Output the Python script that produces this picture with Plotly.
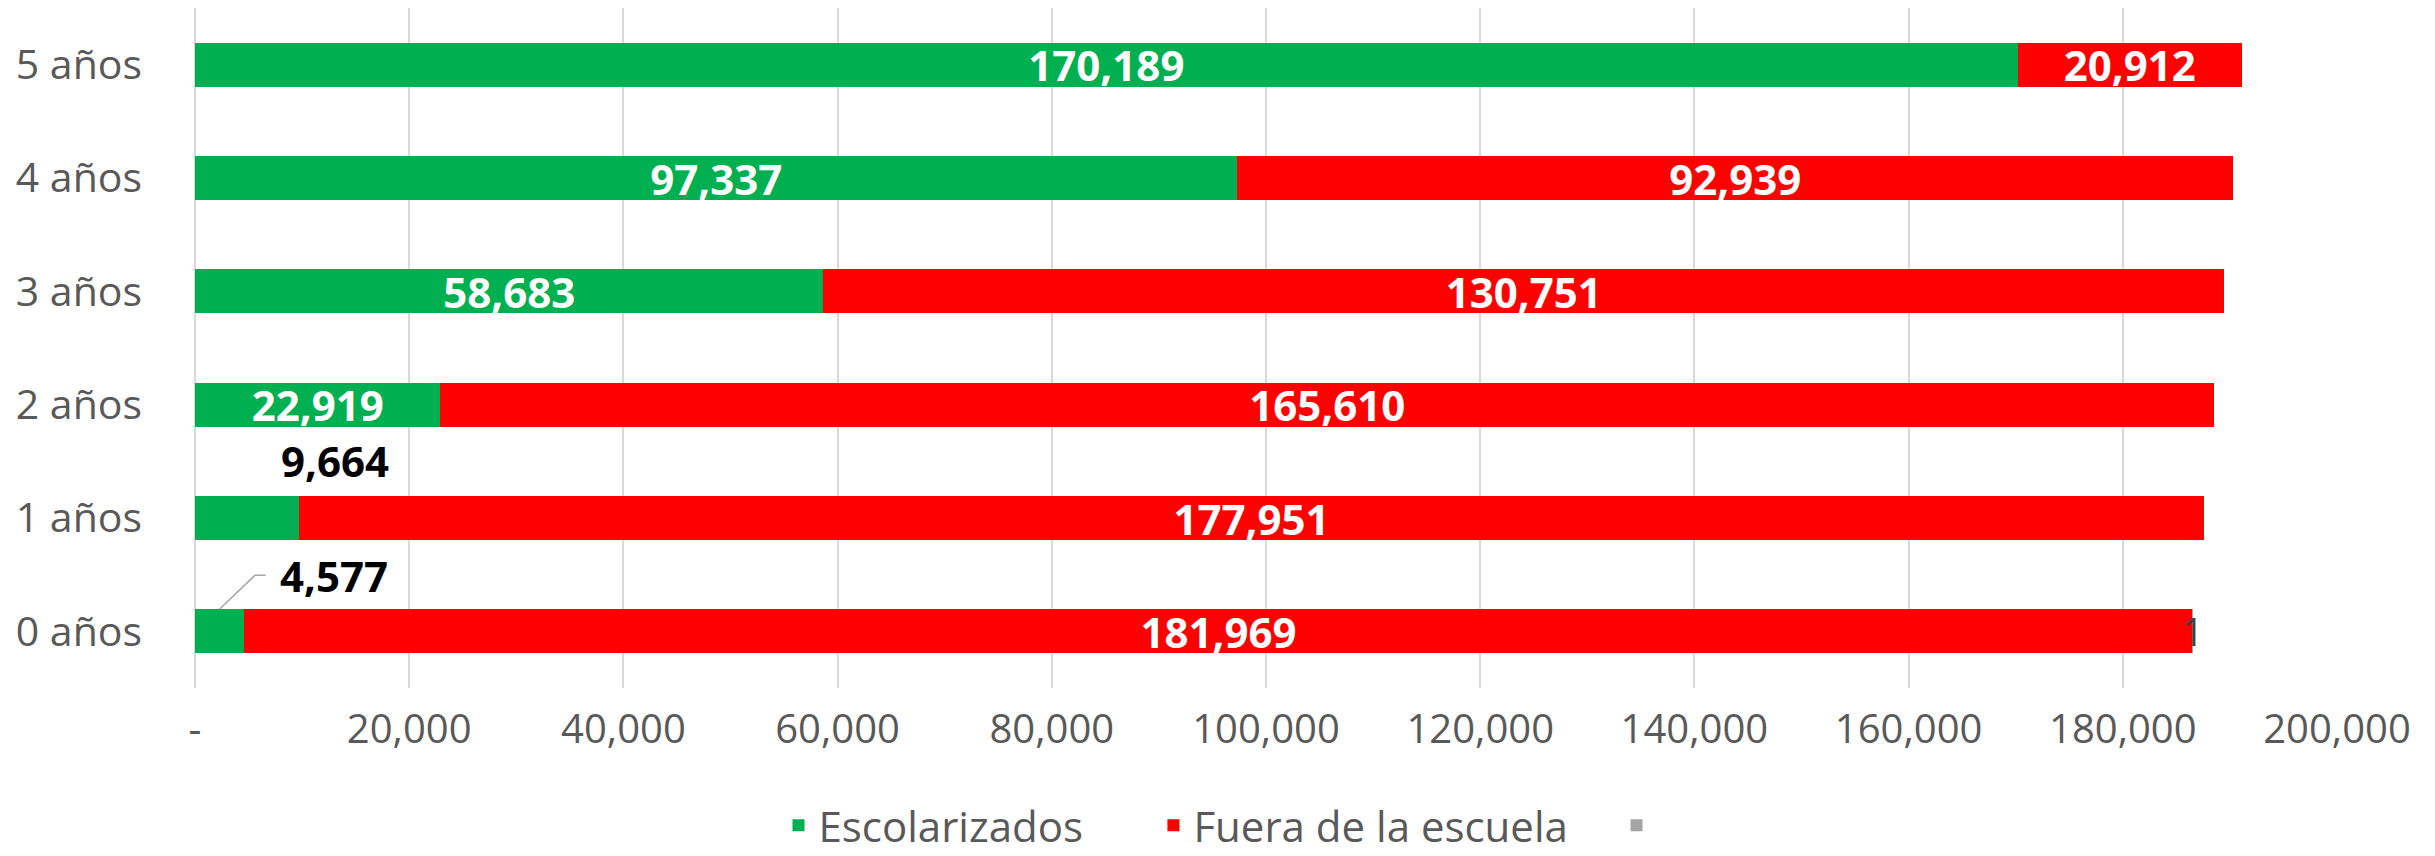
import plotly.graph_objects as go

categories = ["0 años", "1 años", "2 años", "3 años", "4 años", "5 años"]
escolarizados = [4577, 9664, 22919, 58683, 97337, 170189]
fuera = [181969, 177951, 165610, 130751, 92939, 20912]
otros = [1, 0, 0, 0, 0, 0]
series_names = ["Escolarizados", "Fuera de la escuela", ""]
x_ticks = [0, 20000, 40000, 60000, 80000, 100000, 120000, 140000, 160000, 180000, 200000]
x_ticktext = ["-"] + [f"{v:,}" for v in x_ticks[1:]]

GREEN = "#00B050"
RED = "#FF0000"
GRAY = "#A5A5A5"
TXT = "#595959"
FONT = "Open Sans"
NB = "\u00a0"

# labels drawn inside green bars only when they fit (Excel placed the two small ones outside)
green_text = ["" if v < 15000 else f"{v:,}" for v in escolarizados]
red_text = [f"{v:,}" for v in fuera]

fig = go.Figure()
fig.add_trace(go.Bar(
    y=categories, x=escolarizados, orientation="h", name=series_names[0] + NB * 6,
    marker=dict(color=GREEN, line=dict(width=0)),
    text=green_text, textposition="inside", insidetextanchor="middle",
    textangle=0, constraintext="none",
    textfont=dict(family=FONT, size=42, color="white", weight="bold"),
))
fig.add_trace(go.Bar(
    y=categories, x=fuera, orientation="h", name=series_names[1] + NB * 4,
    marker=dict(color=RED, line=dict(width=0)),
    text=red_text, textposition="inside", insidetextanchor="middle",
    textangle=0, constraintext="none",
    textfont=dict(family=FONT, size=42, color="white", weight="bold"),
))
fig.add_trace(go.Bar(
    y=categories, x=otros, orientation="h", name=series_names[2] + NB,
    marker=dict(color=GRAY, line=dict(width=0)),
    textposition="none",
))

# outside labels for the two small green values
for i in (0, 1):
    fig.add_annotation(
        x=escolarizados[i], y=categories[i], xref="x", yref="y",
        text=f"<b>{escolarizados[i]:,}</b>", showarrow=False,
        xanchor="left", yanchor="middle",
        xshift=34 if i == 0 else -20, yshift=58 if i == 1 else 56,
        font=dict(family=FONT, size=42, color="black"),
    )

# leader line for the 0 años label
v0 = escolarizados[0]
fig.add_shape(
    type="path",
    path=f"M {v0/2},{0.195} L {v0/2 + 3300},{0.494} L {v0/2 + 4300},{0.494}",
    xref="x", yref="y",
    line=dict(color="#A6A6A6", width=1.5),
)

# label for third series at end of 0 años bar
tot0 = escolarizados[0] + fuera[0] + otros[0]
fig.add_annotation(
    x=tot0, y=categories[0], xref="x", yref="y",
    text=f"{otros[0]}", showarrow=False, xanchor="center", yanchor="middle",
    font=dict(family=FONT, size=38, color="#404040"),
)

fig.update_layout(
    width=2435, height=856,
    barmode="stack", bargap=0.61,
    plot_bgcolor="white", paper_bgcolor="white",
    margin=dict(l=187, r=106, t=0, b=176),
    font=dict(family=FONT, color=TXT),
    showlegend=True,
    legend=dict(
        orientation="h", xref="container", yref="container",
        x=0.5, xanchor="center", y=0.045, yanchor="middle",
        font=dict(family=FONT, size=42, color=TXT),
        traceorder="normal",
    ),
)
fig.update_xaxes(
    range=[0, 200000], tickvals=x_ticks, ticktext=x_ticktext,
    showgrid=True, gridcolor="#D9D9D9", gridwidth=2,
    zeroline=True, zerolinecolor="#D9D9D9", zerolinewidth=2,
    showline=False, ticks="", ticklabelstandoff=14,
    tickfont=dict(family=FONT, size=40, color=TXT),
    fixedrange=True,
)
fig.update_yaxes(
    categoryorder="array", categoryarray=categories,
    range=[-0.5, 5.5], showgrid=False, zeroline=False, showline=False,
    ticks="", ticklabelstandoff=52,
    tickfont=dict(family=FONT, size=41, color=TXT),
)

fig.write_html("out.html")
